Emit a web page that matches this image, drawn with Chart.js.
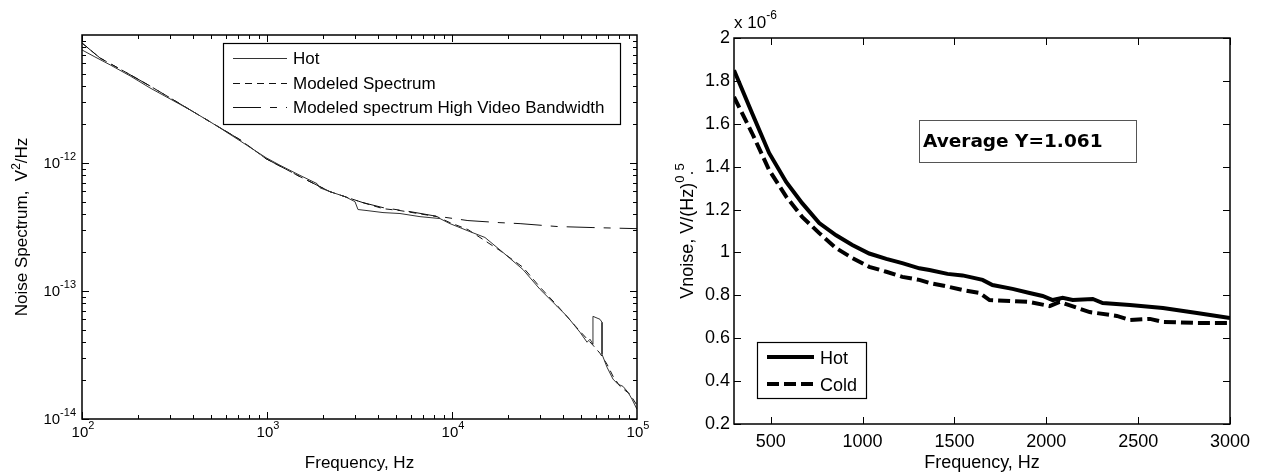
<!DOCTYPE html>
<html><head><meta charset="utf-8">
<script src="https://cdn.jsdelivr.net/npm/chart.js@4.4.1/dist/chart.umd.min.js"></script>
<style>
html,body{margin:0;padding:0;background:#fff;width:1262px;height:475px;overflow:hidden}
canvas{position:absolute;top:0}
#c1{left:0}
#c2{left:660px}
</style></head><body>
<canvas id="c1" width="660" height="475"></canvas>
<canvas id="c2" width="602" height="475"></canvas>
<script>
// ---------------- LEFT CHART DATA ----------------
const leftXTicks = [1e2, 1e3, 1e4, 1e5];
const leftXTickExp = ['2', '3', '4', '5'];
const leftYTicks = [1e-14, 1e-13, 1e-12];
const leftYTickExp = ['-14', '-13', '-12'];

const hotFreq = [100,117.5,142,182,233,299,384,492,557,715,988,1176,1508,1864,1934,2190,2640,2990,3103,3472,4236,5235,6714,8610,9750,12500,15070,18870,24210,29920,36980,41880,49210,53700,55720,57800,57800,63100,64700,64700,68850,74170,78890,83950,89330,93970,100000];
const hotPsd = [7.64e-12,6.74e-12,5.84e-12,4.79e-12,3.86e-12,3.17e-12,2.60e-12,2.10e-12,1.88e-12,1.49e-12,1.10e-12,9.6e-13,8.0e-13,6.9e-13,6.4e-13,5.97e-13,5.46e-13,4.99e-13,4.33e-13,4.25e-13,4.10e-13,4.03e-13,3.81e-13,3.68e-13,3.36e-13,2.91e-13,2.62e-13,2.00e-13,1.47e-13,1.03e-13,7.59e-14,6.34e-14,4.76e-14,3.98e-14,4.20e-14,3.84e-14,6.34e-14,6.01e-14,5.69e-14,3.2e-14,2.54e-14,2.05e-14,1.87e-14,1.80e-14,1.62e-14,1.43e-14,1.19e-14];

const modelFreq = [100,125,171,233,299,384,492,715,988,1508,2190,3303,4236,5235,8297,9750,12190,18170,24210,29920,36980,49210,57810,63100,68850,74170,80910,91660,100000];
const modelPsd = [8.66e-12,6.62e-12,5.15e-12,4.00e-12,3.23e-12,2.60e-12,2.10e-12,1.52e-12,1.08e-12,7.82e-13,5.97e-13,4.90e-13,4.40e-13,4.25e-13,3.81e-13,3.42e-13,3.02e-13,2.07e-13,1.53e-13,1.07e-13,7.72e-14,4.84e-14,3.77e-14,3.26e-14,2.68e-14,2.16e-14,1.80e-14,1.56e-14,1.28e-14];

const highBwFreq = [100,125,171,233,299,384,492,715,988,1508,2190,3303,4236,5929,7889,12190,18170,23330,36980,57810,100000];
const highBwPsd = [8.66e-12,6.62e-12,5.15e-12,4.00e-12,3.23e-12,2.60e-12,2.10e-12,1.52e-12,1.08e-12,7.82e-13,5.97e-13,4.90e-13,4.48e-13,4.17e-13,3.88e-13,3.55e-13,3.42e-13,3.36e-13,3.19e-13,3.13e-13,3.07e-13];

const leftLegend = ['Hot', 'Modeled Spectrum', 'Modeled spectrum High Video Bandwidth'];

// ---------------- RIGHT CHART DATA ----------------
const rightXTicks = [500, 1000, 1500, 2000, 2500, 3000];
const rightXTickLabels = ['500', '1000', '1500', '2000', '2500', '3000'];
const rightYTicks = [0.2, 0.4, 0.6, 0.8, 1.0, 1.2, 1.4, 1.6, 1.8, 2.0];
const rightYTickLabels = ['0.2', '0.4', '0.6', '0.8', '1', '1.2', '1.4', '1.6', '1.8', '2'];

const hotRFreq = [300,398,491,584,671,764,856,944,1036,1129,1216,1309,1364,1462,1544,1653,1707,1816,1909,1980,2035,2089,2144,2253,2307,2455,2635,2820,3000];
const hotRV = [1.85,1.65,1.464,1.329,1.23,1.137,1.08,1.035,0.995,0.97,0.95,0.926,0.918,0.90,0.893,0.872,0.848,0.83,0.811,0.797,0.778,0.788,0.778,0.783,0.764,0.755,0.741,0.718,0.694];

const coldRFreq = [300,398,491,584,671,764,856,944,1036,1129,1216,1309,1364,1473,1544,1636,1691,1909,2018,2073,2236,2384,2455,2564,2635,2820,3000];
const coldRV = [1.725,1.557,1.385,1.26,1.166,1.09,1.02,0.974,0.933,0.91,0.886,0.872,0.858,0.839,0.825,0.811,0.778,0.769,0.75,0.769,0.722,0.704,0.685,0.69,0.676,0.671,0.671];

const rightLegend = ['Hot', 'Cold'];
const annotationText = 'Average Y=1.061';

// ---------------- HELPERS ----------------
const FAM = '"Liberation Sans", Arial, sans-serif';
const pts = (xs, ys) => xs.map((x, i) => ({x, y: ys[i]}));

function drawRich(ctx, parts, x, y, align) {
  let total = 0;
  parts.forEach(p => { ctx.font = p.font; p.w = ctx.measureText(p.t).width; total += p.w; });
  let cx = align === 'center' ? x - total / 2 : align === 'right' ? x - total : x;
  ctx.textAlign = 'left';
  ctx.textBaseline = 'alphabetic';
  parts.forEach(p => { ctx.font = p.font; ctx.fillText(p.t, cx, y - (p.rise || 0)); cx += p.w; });
}
function line(ctx, x1, y1, x2, y2) { ctx.beginPath(); ctx.moveTo(x1, y1); ctx.lineTo(x2, y2); ctx.stroke(); }

// ---------------- LEFT CHART ----------------
const leftPlugin = {
  id: 'leftDecor',
  afterDraw(chart) {
    const {ctx, chartArea: a, scales: {x, y}} = chart;
    ctx.save();
    ctx.strokeStyle = '#000'; ctx.fillStyle = '#000'; ctx.setLineDash([]);
    ctx.lineWidth = 1;
    for (let d = 2; d <= 4; d++) for (let k = 1; k <= 9; k++) {
      const v = k * Math.pow(10, d);
      const px = Math.round(x.getPixelForValue(v)) + 0.5;
      const len = k === 1 ? 7 : 4;
      line(ctx, px, a.bottom, px, a.bottom - len);
      line(ctx, px, a.top, px, a.top + len);
    }
    for (let d = -14; d <= -12; d++) for (let k = 1; k <= 9; k++) {
      const v = k * Math.pow(10, d);
      const py = Math.round(y.getPixelForValue(v)) + 0.5;
      const len = k === 1 ? 7 : 4;
      line(ctx, a.left, py, a.left + len, py);
      line(ctx, a.right, py, a.right - len, py);
    }
    ctx.lineWidth = 1.5;
    ctx.strokeRect(a.left, a.top, a.right - a.left, a.bottom - a.top);
    leftXTicks.forEach((v, i) => {
      drawRich(ctx, [{t: '10', font: '15px ' + FAM}, {t: leftXTickExp[i], font: '11px ' + FAM, rise: 8}],
        x.getPixelForValue(v) + 1, a.bottom + 18, 'center');
    });
    leftYTicks.forEach((v, i) => {
      drawRich(ctx, [{t: '10', font: '15px ' + FAM}, {t: leftYTickExp[i], font: '11px ' + FAM, rise: 8}],
        a.left - 6, y.getPixelForValue(v) + 5, 'right');
    });
    drawRich(ctx, [{t: 'Frequency, Hz', font: '17px ' + FAM}], (a.left + a.right) / 2, 468, 'center');
    ctx.save();
    ctx.translate(27, (a.top + a.bottom) / 2);
    ctx.rotate(-Math.PI / 2);
    drawRich(ctx, [{t: 'Noise Spectrum,  V', font: '17px ' + FAM}, {t: '2', font: '12px ' + FAM, rise: 7}, {t: '/Hz', font: '17px ' + FAM}], 0, 0, 'center');
    ctx.restore();
    const lx = 223, ly = 43, lw = 397, lh = 81;
    ctx.fillStyle = '#fff'; ctx.fillRect(lx, ly, lw, lh);
    ctx.lineWidth = 1.2; ctx.strokeStyle = '#000';
    ctx.strokeRect(lx + 0.5, ly + 0.5, lw, lh);
    const rows = [58, 83, 107];
    chart.data.datasets.forEach((ds, i) => {
      ctx.strokeStyle = ds.borderColor; ctx.lineWidth = ds.borderWidth;
      ctx.setLineDash(ds.borderDash || []);
      line(ctx, 233, rows[i] + 0.5, 287, rows[i] + 0.5);
      ctx.setLineDash([]);
      ctx.fillStyle = '#000';
      drawRich(ctx, [{t: leftLegend[i], font: '17px ' + FAM}], 293, rows[i] + 6, 'left');
    });
    ctx.restore();
  }
};

new Chart(document.getElementById('c1'), {
  type: 'line',
  data: {
    datasets: [
      {label: leftLegend[0], data: pts(hotFreq, hotPsd), borderColor: '#333', borderWidth: 1, pointRadius: 0, tension: 0},
      {label: leftLegend[1], data: pts(modelFreq, modelPsd), borderColor: '#111', borderWidth: 1, borderDash: [7, 5], pointRadius: 0, tension: 0},
      {label: leftLegend[2], data: pts(highBwFreq, highBwPsd), borderColor: '#111', borderWidth: 1, borderDash: [28, 9, 7, 9], pointRadius: 0, tension: 0}
    ]
  },
  options: {
    responsive: false, animation: false, devicePixelRatio: 1,
    layout: {padding: {top: 35, right: 23, left: 0, bottom: 0}},
    plugins: {legend: {display: false}, tooltip: {enabled: false}},
    scales: {
      x: {type: 'logarithmic', min: 100, max: 1e5,
          ticks: {display: false}, grid: {display: false, drawTicks: false}, border: {display: false},
          afterBuildTicks: s => { s.ticks = leftXTicks.map(v => ({value: v})); },
          afterFit: s => { s.height = 56; }},
      y: {type: 'logarithmic', min: 1e-14, max: 1e-11,
          ticks: {display: false}, grid: {display: false, drawTicks: false}, border: {display: false},
          afterBuildTicks: s => { s.ticks = leftYTicks.map(v => ({value: v})); },
          afterFit: s => { s.width = 82; }}
    }
  },
  plugins: [leftPlugin]
});

// ---------------- RIGHT CHART ----------------
const rightPlugin = {
  id: 'rightDecor',
  afterDraw(chart) {
    const {ctx, chartArea: a, scales: {x, y}} = chart;
    ctx.save();
    ctx.strokeStyle = '#000'; ctx.fillStyle = '#000'; ctx.setLineDash([]);
    ctx.lineWidth = 1;
    rightXTicks.forEach(v => {
      const px = Math.round(x.getPixelForValue(v)) + 0.5;
      line(ctx, px, a.bottom, px, a.bottom - 7);
      line(ctx, px, a.top, px, a.top + 7);
    });
    rightYTicks.forEach(v => {
      const py = Math.round(y.getPixelForValue(v)) + 0.5;
      line(ctx, a.left, py, a.left + 7, py);
      line(ctx, a.right, py, a.right - 7, py);
    });
    ctx.lineWidth = 1.5;
    ctx.strokeRect(a.left, a.top, a.right - a.left, a.bottom - a.top);
    drawRich(ctx, [{t: 'x 10', font: '17px ' + FAM}, {t: '-6', font: '12px ' + FAM, rise: 9}], a.left, 28, 'left');
    drawRich(ctx, [{t: 'Frequency, Hz', font: '18px ' + FAM}], (a.left + a.right) / 2, 468, 'center');
    ctx.save();
    ctx.translate(33, (a.top + a.bottom) / 2);
    ctx.rotate(-Math.PI / 2);
    drawRich(ctx, [{t: 'Vnoise, V/(Hz)', font: '18px ' + FAM}, {t: '0', font: '13px ' + FAM, rise: 9},
      {t: '.', font: '18px ' + FAM}, {t: '5', font: '13px ' + FAM, rise: 9}], 0, 0, 'center');
    ctx.restore();
    const lx = 97, ly = 342, lw = 109, lh = 56;
    ctx.fillStyle = '#fff'; ctx.fillRect(lx, ly, lw, lh);
    ctx.lineWidth = 1.2; ctx.strokeStyle = '#000';
    ctx.strokeRect(lx + 0.5, ly + 0.5, lw, lh);
    const rows = [357, 384];
    chart.data.datasets.forEach((ds, i) => {
      ctx.strokeStyle = ds.borderColor; ctx.lineWidth = ds.borderWidth;
      ctx.setLineDash(ds.borderDash || []);
      line(ctx, 107, rows[i], 154, rows[i]);
      ctx.setLineDash([]);
      ctx.fillStyle = '#000';
      drawRich(ctx, [{t: rightLegend[i], font: '18px ' + FAM}], 160, rows[i] + 7, 'left');
    });
    const bx = 259, by = 120, bw = 217, bh = 42;
    ctx.fillStyle = '#fff'; ctx.fillRect(bx, by, bw, bh);
    ctx.strokeStyle = '#555'; ctx.lineWidth = 1;
    ctx.strokeRect(bx + 0.5, by + 0.5, bw, bh);
    ctx.fillStyle = '#000';
    drawRich(ctx, [{t: annotationText, font: 'bold 18.5px "DejaVu Sans", sans-serif'}], bx + 4, by + 27, 'left');
    ctx.restore();
  }
};

new Chart(document.getElementById('c2'), {
  type: 'line',
  data: {
    datasets: [
      {label: rightLegend[0], data: pts(hotRFreq, hotRV), borderColor: '#000', borderWidth: 4, pointRadius: 0, tension: 0},
      {label: rightLegend[1], data: pts(coldRFreq, coldRV), borderColor: '#000', borderWidth: 4, borderDash: [12, 5], pointRadius: 0, tension: 0}
    ]
  },
  options: {
    responsive: false, animation: false, devicePixelRatio: 1,
    layout: {padding: {top: 38, right: 32, left: 0, bottom: 0}},
    plugins: {legend: {display: false}, tooltip: {enabled: false}},
    scales: {
      x: {type: 'linear', min: 300, max: 3000,
          ticks: {color: '#000', font: {family: FAM, size: 18}, padding: 7, maxRotation: 0,
                  callback: (v, i) => rightXTickLabels[i]},
          grid: {display: false, drawTicks: false}, border: {display: false},
          afterBuildTicks: s => { s.ticks = rightXTicks.map(v => ({value: v})); },
          afterFit: s => { s.height = 51; }},
      y: {type: 'linear', min: 0.2, max: 2,
          ticks: {color: '#000', font: {family: FAM, size: 18}, padding: 4,
                  callback: (v, i) => rightYTickLabels[i]},
          grid: {display: false, drawTicks: false}, border: {display: false},
          afterBuildTicks: s => { s.ticks = rightYTicks.map(v => ({value: v})); },
          afterFit: s => { s.width = 74; }}
    }
  },
  plugins: [rightPlugin]
});
</script>
</body></html>
